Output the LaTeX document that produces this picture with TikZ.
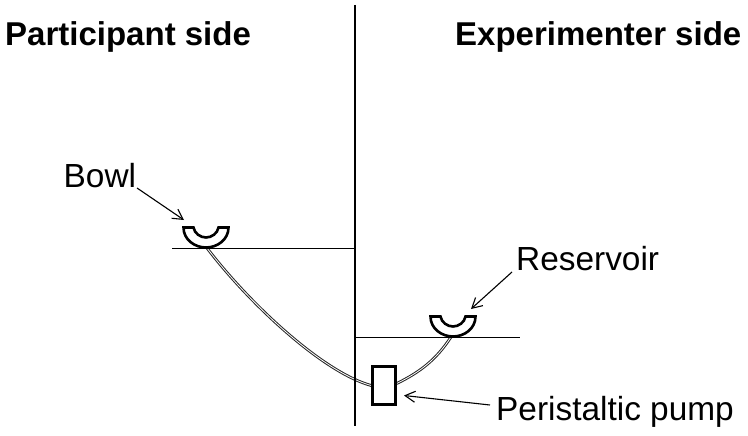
\documentclass[tikz,border=0pt]{standalone}
\usepackage{fontspec}
\setmainfont{Liberation Sans}
\usetikzlibrary{arrows.meta}
\tikzset{
  heading/.style={font=\fontsize{33}{38}\selectfont\bfseries, inner sep=0pt, anchor=base west},
  caption/.style={font=\fontsize{33.4}{38}\selectfont, inner sep=0pt, anchor=base west},
  leader/.style={line width=1.1pt, -{Straight Barb[length=10pt,width=11pt,line width=1.1pt]}},
  ledge/.style={line width=1pt},
  wall/.style={line width=2.6pt},
  vessel/.style={line width=2.6pt, fill=white, line join=miter},
  tubing/.style={draw=black!85, line width=1pt, double=white, double distance=0.8pt},
  pumpbox/.style={draw, line width=2.6pt, fill=white, minimum width=23pt, minimum height=38pt, inner sep=0pt},
}
% Half-ring vessel with its top-left outer corner at the current origin
\newcommand{\halfring}[1]{%
  \draw[vessel,shift={(#1)}] (0,0) -- (10,0)
    .. controls (11,6) and (17,10) .. (22.5,10)
    .. controls (28,10) and (34,6) .. (35,0)
    -- (45,0)
    .. controls (45,12) and (34,20) .. (22.5,20)
    .. controls (11,20) and (0,12) .. (0,0) -- cycle;}
\begin{document}
\begin{tikzpicture}[x=1pt,y=-1pt]
  \useasboundingbox (0,0) rectangle (748,436);

  % headings
  \node[heading] at (5,46) {Participant side};
  \node[heading] at (455,46) {Experimenter side};

  % dividing wall and the two shelves
  \coordinate (wallTop) at (355,5);
  \coordinate (wallBottom) at (355,426);
  \coordinate (shelfLeftA) at (172,248);
  \coordinate (shelfLeftB) at (355,248);
  \coordinate (shelfRightA) at (356,337.5);
  \coordinate (shelfRightB) at (520,337.5);
  \coordinate (bowlFoot) at (207,248);
  \coordinate (reservoirFoot) at (451,337);

  % pump, placed first so that the tubing ends on its sides
  \node[pumpbox] (pump) at (384,385.5) {};

  % tubing runs behind the wall line
  \draw[tubing] (bowlFoot) .. controls (248,302) and (322,372) .. (pump.west);
  \draw[tubing] (pump.east) ++(0,-2) .. controls (420,372) and (436,360) .. (reservoirFoot);

  \draw[wall] (wallTop) -- (wallBottom);
  \draw[ledge] (shelfLeftA) -- (shelfLeftB);
  \draw[ledge] (shelfRightA) -- (shelfRightB);

  % vessels
  \halfring{183.5,227.5}
  \halfring{430.5,316.5}
  \node[pumpbox] at (pump) {};

  % labels and their arrows
  \node[caption] (bowlLabel) at (63.5,187.5) {Bowl};
  \node[caption] (reservoirLabel) at (516,270) {Reservoir};
  \node[caption] (pumpLabel) at (496,420) {Peristaltic pump};
  \coordinate (bowlTail) at (137,188);
  \coordinate (bowlTip) at (184,220);
  \coordinate (reservoirTail) at (512,272);
  \coordinate (reservoirTip) at (471,309);
  \coordinate (pumpTail) at (490,405);
  \coordinate (pumpTip) at (404,395.5);
  \draw[leader] (bowlTail) -- (bowlTip);
  \draw[leader] (reservoirTail) -- (reservoirTip);
  \draw[leader] (pumpTail) -- (pumpTip);
\end{tikzpicture}
\end{document}
